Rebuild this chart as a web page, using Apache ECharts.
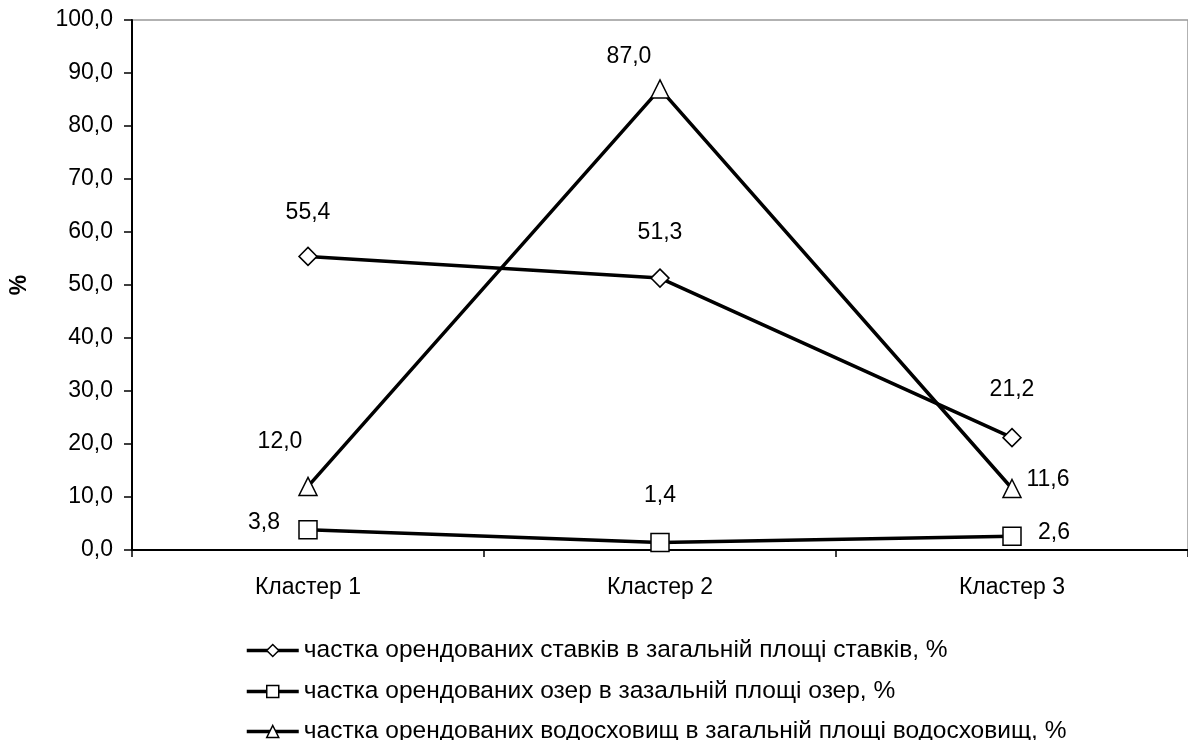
<!DOCTYPE html>
<html>
<head>
<meta charset="utf-8">
<script src="https://cdn.jsdelivr.net/npm/echarts@6/dist/echarts.min.js"></script>
<style>html,body{margin:0;padding:0;background:#fff;}#c{width:1188px;height:740px;}</style>
</head>
<body>
<div id="c"></div>
<script>
var categories = ['Кластер 1', 'Кластер 2', 'Кластер 3'];
var seriesNames = [
  'частка орендованих ставків в загальній площі ставків, %',
  'частка орендованих озер в зазальній площі озер, %',
  'частка орендованих водосховищ в загальній площі водосховищ, %'
];
var ponds = [55.4, 51.3, 21.2];
var lakes = [3.8, 1.4, 2.6];
var reservoirs = [12.0, 87.0, 11.6];
var yTicks = [0, 100, 10];

var FONT = '"Liberation Sans", Arial, sans-serif';
var FS = 23;
var labelOffsets = {
  ponds: [[0, -44], [0, -45], [0, -48]],
  lakes: [[-44, -7], [0, -47], [42, -4]],
  reservoirs: [[-28, -45], [-31, -32], [36, -9]]
};
var legendTops = [638, 679, 719];
function fmt(v) { return v.toFixed(1).replace('.', ','); }
function mkData(vals, offs) {
  return vals.map(function (v, i) {
    return { value: v, label: { offset: offs[i] } };
  });
}
function mkSeries(name, vals, offs, symbol) {
  return {
    name: name, type: 'line', data: mkData(vals, offs),
    symbol: symbol, symbolSize: 18,
    lineStyle: { color: '#000', width: 3.5 },
    itemStyle: { color: '#fff', borderColor: '#000', borderWidth: 1.5 },
    label: {
      show: true, position: 'inside', color: '#000', fontSize: FS, fontFamily: FONT,
      formatter: function (p) { return fmt(p.value); }
    },
    emphasis: { disabled: true },
    animation: false
  };
}
function mkLegend(name, top) {
  return {
    orient: 'vertical', left: 245, top: top, padding: 0,
    itemWidth: 52, itemHeight: 15, itemGap: 0,
    lineStyle: { width: 3.5, color: '#000' },
    itemStyle: { color: '#fff', borderColor: '#000', borderWidth: 1.5 },
    textStyle: { color: '#000', fontSize: 24.5, fontFamily: FONT, lineHeight: 24 },
    data: [name]
  };
}
var chart = echarts.init(document.getElementById('c'));
chart.setOption({
  animation: false,
  backgroundColor: '#fff',
  grid: { left: 127, right: -4, top: 20, bottom: 190, show: true, borderColor: '#999', borderWidth: 1.5, backgroundColor: 'transparent' },
  xAxis: {
    type: 'category', data: categories, boundaryGap: true,
    axisLine: { lineStyle: { color: '#000', width: 2 } },
    axisTick: { show: true, length: 7, lineStyle: { color: '#000', width: 1.5 } },
    axisLabel: { color: '#000', fontSize: FS, fontFamily: FONT, margin: 26 },
    splitLine: { show: false }
  },
  yAxis: {
    type: 'value', min: yTicks[0], max: yTicks[1], interval: yTicks[2],
    name: '%', nameLocation: 'middle', nameGap: 101, nameRotate: 90,
    nameTextStyle: { color: '#000', fontSize: FS, fontWeight: 'bold', fontFamily: FONT },
    axisLine: { show: true, lineStyle: { color: '#000', width: 2 } },
    axisTick: { show: true, length: 8, lineStyle: { color: '#000', width: 1.5 } },
    axisLabel: { color: '#000', fontSize: FS, fontFamily: FONT, margin: 19, formatter: function (v) { return fmt(v); } },
    splitLine: { show: false }
  },
  legend: seriesNames.map(function (n, i) { return mkLegend(n, legendTops[i]); }),
  series: [
    mkSeries(seriesNames[0], ponds, labelOffsets.ponds, 'diamond'),
    mkSeries(seriesNames[1], lakes, labelOffsets.lakes, 'rect'),
    mkSeries(seriesNames[2], reservoirs, labelOffsets.reservoirs, 'triangle')
  ]
});
</script>
</body>
</html>
